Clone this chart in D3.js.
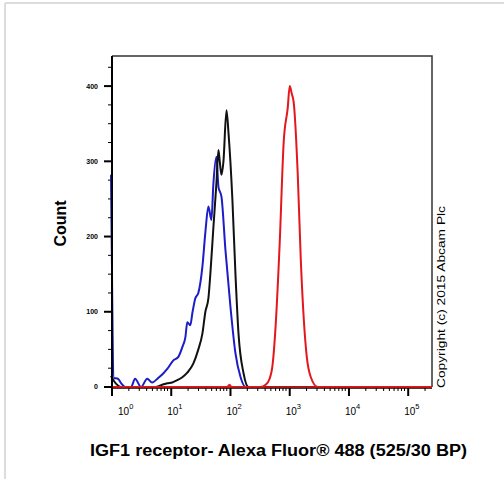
<!DOCTYPE html>
<html>
<head>
<meta charset="utf-8">
<script src="https://cdn.jsdelivr.net/npm/d3@7/dist/d3.min.js"></script>
<style>
  body { margin: 0; background: #fff; }
  svg text { font-family: Arial, "Liberation Sans", sans-serif; }
</style>
</head>
<body>
<div id="chart"></div>
<script>
// histogram data: fluorescence intensity (log axis) vs count
let blueX = [1.0, 1.12, 1.31, 1.48, 1.73, 2.18, 2.55, 3.22, 4.08, 4.95, 6.26, 7.61, 8.9, 11.2, 13.7, 16.0, 18.0, 19.4, 21.8, 23.6, 26.5, 29.8, 34.9, 39.2, 44.1, 49.5, 53.6, 60.2, 65.1, 73.2, 85.5, 104, 126, 154, 187, 262144]
let blueY = [282, 12, 11, 5, 0, 0, 11, 0, 11, 6, 12, 18, 24, 35, 40, 53, 66, 86, 82, 98, 118, 125, 160, 206, 240, 222, 271, 306, 266, 253, 182, 106, 45, 13, 0, 0]

let blackX = [1.0, 1.12, 1.31, 1.48, 5.57, 7.32, 8.9, 10.8, 13.1, 16.0, 19.4, 24.5, 29.8, 34.9, 39.2, 44.1, 47.6, 53.6, 60.2, 65.1, 68.5, 73.2, 79.1, 89.0, 96.2, 112, 126, 142, 173, 210, 262144]
let blackY = [15, 8, 2, 0, 0, 3, 5, 6, 9, 13, 19, 31, 50, 71, 100, 118, 151, 213, 271, 315, 300, 282, 300, 368, 338, 249, 151, 71, 18, 0, 0]

let redX = [1.0, 92, 100, 108, 335, 407, 470, 535, 602, 703, 823, 962, 1040, 1124, 1215, 1421, 1597, 1796, 2018, 2360, 3101, 262144]
let redY = [0, 0, 3, 0, 0, 3, 10, 30, 82, 190, 326, 371, 400, 390, 378, 282, 170, 90, 40, 13, 0, 0]

let yMajor = [0, 100, 200, 300, 400]
let xDecades = [0, 1, 2, 3, 4, 5]

let xLabel = 'IGF1 receptor- Alexa Fluor\u00AE 488 (525/30 BP)'
let yLabel = 'Count'
let copyright = 'Copyright (c) 2015 Abcam Plc'

var width = 504
var height = 479
var pLeft = 112, pRight = 432, pTop = 56, pBottom = 387

var svg = d3.select('#chart').append('svg')
  .attr('width', width)
  .attr('height', height)

// faint outer frame of the picture
svg.append('line').attr('x1', 5).attr('y1', 3).attr('x2', width).attr('y2', 3)
  .attr('stroke', '#dcdcdc').attr('stroke-width', 2)
svg.append('line').attr('x1', 5).attr('y1', 3).attr('x2', 5).attr('y2', height)
  .attr('stroke', '#dcdcdc').attr('stroke-width', 2)

var x = d3.scaleLog().domain([1, 262144]).range([pLeft - 1, pRight])
var y = d3.scaleLinear().domain([0, 440]).range([pBottom, pTop])

// plot frame (top and right)
svg.append('path')
  .attr('d', `M${pLeft},${pTop}H${pRight}V${pBottom}`)
  .attr('fill', 'none')
  .attr('stroke', '#333')
  .attr('stroke-width', 1.5)

// y ticks
let yTicks = d3.range(0, 426, 25)
svg.selectAll('.ytick').data(yTicks).enter().append('line')
  .attr('x1', d => d % 100 == 0 ? pLeft - 8 : pLeft - 4)
  .attr('x2', pLeft)
  .attr('y1', d => y(d))
  .attr('y2', d => y(d))
  .attr('stroke', '#000')
  .attr('stroke-width', d => d % 100 == 0 ? 2 : 1)

svg.selectAll('.ylab').data(yMajor).enter().append('text')
  .attr('x', pLeft - 14)
  .attr('y', d => y(d))
  .attr('dy', '0.35em')
  .attr('text-anchor', 'end')
  .attr('font-size', 7)
  .attr('font-weight', 'bold')
  .text(d => d)

// x ticks (log minors)
let xMinor = []
xDecades.forEach(p => {
  for (let m = 2; m <= 9; m++) {
    let v = m * Math.pow(10, p)
    if (v <= 262144) xMinor.push(v)
  }
})
svg.selectAll('.xminor').data(xMinor).enter().append('line')
  .attr('x1', d => x(d)).attr('x2', d => x(d))
  .attr('y1', pBottom).attr('y2', pBottom + 4)
  .attr('stroke', '#000').attr('stroke-width', 1)

svg.selectAll('.xmajor').data(xDecades).enter().append('line')
  .attr('x1', d => x(Math.pow(10, d)) + 1).attr('x2', d => x(Math.pow(10, d)) + 1)
  .attr('y1', pBottom).attr('y2', pBottom + 9)
  .attr('stroke', '#000').attr('stroke-width', 2)

let xl = svg.selectAll('.xlab').data(xDecades).enter().append('text')
  .attr('x', d => d == 0 ? x(1) + 7 : x(Math.pow(10, d)) - 3)
  .attr('y', pBottom + 28)
  .attr('font-size', 10)
xl.append('tspan').text('10')
xl.append('tspan').attr('dy', -6).attr('font-size', 7.5).text(d => d)

// curves
let line = d3.line()
  .x(d => x(d[0]))
  .y(d => y(d[1]))
  .curve(d3.curveMonotoneX)

let series = [
  { xs: blueX, ys: blueY, color: '#1c1cc8' },
  { xs: blackX, ys: blackY, color: '#111111' },
  { xs: redX, ys: redY, color: '#e3171c' }
]
series.forEach(s => {
  svg.append('path')
    .datum(s.xs.map((v, i) => [v, s.ys[i]]))
    .attr('d', line)
    .attr('fill', 'none')
    .attr('stroke', s.color)
    .attr('stroke-width', 2)
    .attr('stroke-linejoin', 'round')
})

// left and bottom axes
svg.append('line').attr('x1', pLeft).attr('x2', pLeft).attr('y1', pTop).attr('y2', pBottom + 1)
  .attr('stroke', '#000').attr('stroke-width', 2)
svg.append('line').attr('x1', pLeft).attr('x2', pRight).attr('y1', pBottom + 1).attr('y2', pBottom + 1)
  .attr('stroke', '#000').attr('stroke-width', 1.5)
svg.append('line').attr('x1', pLeft + 1).attr('x2', pRight).attr('y1', pBottom).attr('y2', pBottom)
  .attr('stroke', '#e3171c').attr('stroke-width', 1.5)

// titles
svg.append('text')
  .attr('transform', `translate(66,${(pTop + pBottom) / 2 + 2}) rotate(-90)`)
  .attr('text-anchor', 'middle')
  .attr('font-size', 16)
  .attr('font-weight', 'bold')
  .text(yLabel)

svg.append('text')
  .attr('x', 90)
  .attr('y', 456)
  .attr('font-size', 16)
  .attr('font-weight', 'bold')
  .attr('textLength', 377)
  .attr('lengthAdjust', 'spacingAndGlyphs')
  .text(xLabel)

svg.append('text')
  .attr('transform', `translate(445,${pBottom + 1}) rotate(-90)`)
  .attr('font-size', 11.5)
  .attr('textLength', 182)
  .attr('lengthAdjust', 'spacingAndGlyphs')
  .text(copyright)
</script>
</body>
</html>
